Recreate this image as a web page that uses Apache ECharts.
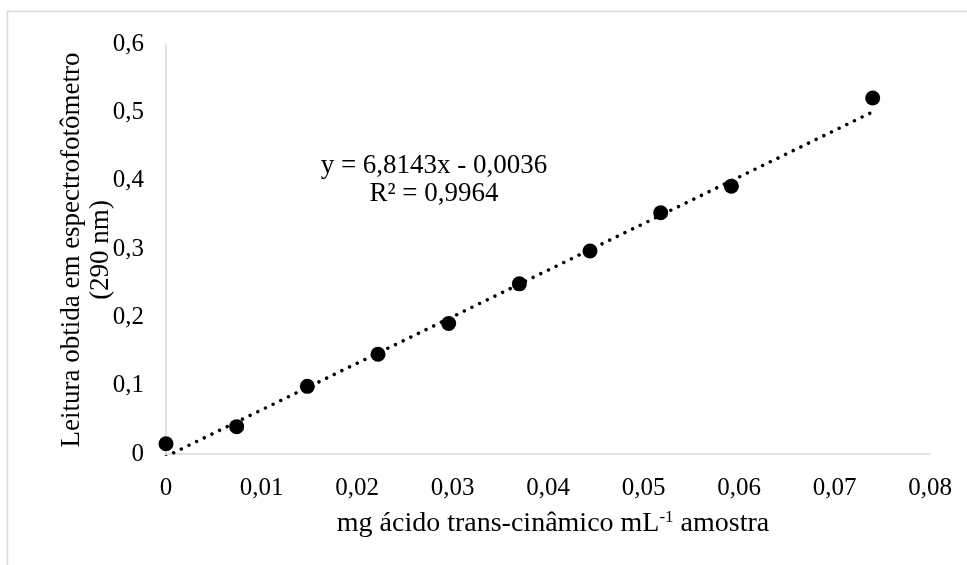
<!DOCTYPE html>
<html>
<head>
<meta charset="utf-8">
<script src="https://cdn.jsdelivr.net/npm/echarts@6/dist/echarts.min.js"></script>
<style>html,body{margin:0;padding:0;background:#fff;}#c{width:967px;height:565px;}</style>
</head>
<body>
<div id="c"></div>
<script>
var xValues = [0, 0.0074, 0.0148, 0.0222, 0.0296, 0.037, 0.0444, 0.0518, 0.0592, 0.074];
var yValues = [0.015, 0.040, 0.099, 0.146, 0.191, 0.249, 0.297, 0.353, 0.392, 0.521];
var trendX = [0, 0.074];
var trendY = [-0.0036, 0.5007];
var equationText = 'y = 6,8143x - 0,0036';
var r2Text = 'R² = 0,9964';
var xTitle = ['mg ácido trans-cinâmico mL', '-1', ' amostra'];
var yTitle = ['Leitura obtida em espectrofotômetro', '(290 nm)'];

var FONT = '"Liberation Serif", "Times New Roman", serif';
var FS = 25;
function fmt(d) { return function (v) { return v === 0 ? '0' : v.toFixed(d).replace('.', ','); }; }

var chart = echarts.init(document.getElementById('c'), null, {renderer: 'canvas'});
chart.setOption({
  animation: false,
  backgroundColor: '#fff',
  grid: {left: 166, top: 44, right: 37, bottom: 111, containLabel: false},
  xAxis: {
    type: 'value', min: 0, max: 0.08, interval: 0.01,
    axisLine: {show: true, lineStyle: {color: '#d9d9d9', width: 1.5}},
    axisTick: {show: false}, splitLine: {show: false},
    axisLabel: {formatter: fmt(2), color: '#000', fontFamily: FONT, fontSize: FS, margin: 22}
  },
  yAxis: {
    type: 'value', min: 0, max: 0.6, interval: 0.1,
    axisLine: {show: true, lineStyle: {color: '#d9d9d9', width: 1.5}},
    axisTick: {show: false}, splitLine: {show: false},
    axisLabel: {formatter: fmt(1), color: '#000', fontFamily: FONT, fontSize: FS, margin: 22}
  },
  series: [
    {
      type: 'line', data: trendX.map(function (x, i) { return [x, trendY[i]]; }),
      showSymbol: false, symbol: 'none', clip: true, z: 1,
      lineStyle: {color: '#000', width: 3.5, type: [0.01, 8.5], cap: 'round'}
    },
    {
      type: 'scatter', data: xValues.map(function (x, i) { return [x, yValues[i]]; }),
      symbol: 'circle', symbolSize: 15, z: 3, clip: false,
      itemStyle: {color: '#000', opacity: 1}
    }
  ],
  graphic: [
    {type: 'polyline', shape: {points: [[7.5, 565], [7.5, 11.5], [967, 11.5]]}, style: {stroke: '#d9d9d9', lineWidth: 1.5, fill: null}, silent: true},
    {type: 'text', x: 434, y: 166, style: {text: equationText, fontFamily: FONT, fontSize: 27, fill: '#000', align: 'center', verticalAlign: 'middle'}},
    {type: 'text', x: 434, y: 194, style: {text: r2Text, fontFamily: FONT, fontSize: 27, fill: '#000', align: 'center', verticalAlign: 'middle'}},
    {type: 'text', x: 553, y: 524, style: {
      text: '{a|' + xTitle[0] + '}{s|' + xTitle[1] + '}{a|' + xTitle[2] + '}',
      align: 'center', verticalAlign: 'middle',
      rich: {
        a: {fontFamily: FONT, fontSize: 28, fill: '#000', lineHeight: 32},
        s: {fontFamily: FONT, fontSize: 17, fill: '#000', lineHeight: 32, padding: [0, 0, 13, 0]}
      }
    }},
    {type: 'text', x: 72, y: 250, rotation: Math.PI / 2, style: {text: yTitle[0], fontFamily: FONT, fontSize: 27, fill: '#000', align: 'center', verticalAlign: 'middle'}},
    {type: 'text', x: 101, y: 250, rotation: Math.PI / 2, style: {text: yTitle[1], fontFamily: FONT, fontSize: 27, fill: '#000', align: 'center', verticalAlign: 'middle'}}
  ]
});
</script>
</body>
</html>
